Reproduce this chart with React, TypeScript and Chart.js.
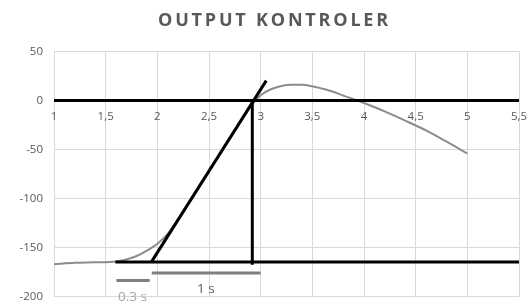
import React, { useEffect, useRef } from "react";
import { Chart, registerables } from "chart.js";

Chart.register(...registerables);

const titleText = "OUTPUT KONTROLER";
const yTicks = [50, 0, -50, -100, -150, -200];
const xTicks = [1, 1.5, 2, 2.5, 3, 3.5, 4, 4.5, 5, 5.5];

// Controller output response curve (grey)
const curveX = [1.0, 1.2, 1.4, 1.6, 1.7, 1.8, 1.9, 2.0, 2.1, 2.2, 2.3, 2.4, 2.5, 2.6, 2.7, 2.8, 2.9, 3.0, 3.1, 3.2, 3.3, 3.4, 3.5, 3.6, 3.7, 3.8, 3.9, 4.0, 4.2, 4.4, 4.6, 4.8, 5.0];
const curveY = [-167, -165.5, -165, -164, -162, -158.5, -153, -146, -136, -121, -105, -88.5, -72, -55.5, -39, -22.5, -6.5, 5.5, 11.5, 14.8, 16, 16, 14.5, 12, 9, 5, 1.5, -2.5, -11, -20.5, -30.5, -42, -54];

// Construction lines (black)
const zeroLineX = [1, 5.5];
const zeroLineY = [0, 0];
const baseLineX = [1.594, 5.5];
const baseLineY = [-164.5, -164.5];
const tangentX = [1.943, 3.054];
const tangentY = [-164.5, 20.3];
const verticalX = [2.919, 2.919];
const verticalY = [0, -167.5];

// Time bars (grey)
const deadBarX = [1.604, 1.926];
const deadBarY = [-183.6, -183.6];
const riseBarX = [1.946, 3.0];
const riseBarY = [-175.8, -175.8];

// Bar labels
const barLabels = ["0.3 s", "1 s"];
const barLabelX = [1.76, 2.47];
const barLabelY = [-200, -192];

const pts = (xs: number[], ys: number[]) => xs.map((x, i) => ({ x, y: ys[i] }));

export default function App() {
  const ref = useRef<HTMLCanvasElement | null>(null);

  useEffect(() => {
    document.body.style.margin = "0";
    const canvas = ref.current;
    if (!canvas) return;

    const textPlugin = {
      id: "texts",
      afterDraw(chart: any) {
        const ctx = chart.ctx;
        const xs = chart.scales.x;
        const ys = chart.scales.y;
        ctx.save();
        // title
        ctx.font = "bold 18px 'Open Sans'";
        (ctx as any).letterSpacing = "2.8px";
        ctx.fillStyle = "#595959";
        ctx.textAlign = "center";
        ctx.textBaseline = "middle";
        ctx.fillText(titleText, chart.width / 2 + 10, 20.5);
        (ctx as any).letterSpacing = "0px";
        // bar labels
        ctx.font = "13.5px 'Open Sans'";
        barLabels.forEach((t, i) => {
          ctx.fillStyle = i === 0 ? "#a6a6a6" : "#595959";
          ctx.fillText(t, xs.getPixelForValue(barLabelX[i]), ys.getPixelForValue(barLabelY[i]));
        });
        ctx.restore();
      },
    };

    const black = "#000000";
    const grey = "#7f7f7f";

    const chart = new Chart(canvas, {
      type: "line",
      data: {
        datasets: [
          { data: pts(zeroLineX, zeroLineY), borderColor: black, borderWidth: 3, pointRadius: 0 },
          { data: pts(baseLineX, baseLineY), borderColor: black, borderWidth: 3, pointRadius: 0 },
          { data: pts(tangentX, tangentY), borderColor: black, borderWidth: 3, pointRadius: 0 },
          { data: pts(verticalX, verticalY), borderColor: black, borderWidth: 3, pointRadius: 0 },
          { data: pts(deadBarX, deadBarY), borderColor: grey, borderWidth: 3, pointRadius: 0 },
          { data: pts(riseBarX, riseBarY), borderColor: grey, borderWidth: 3, pointRadius: 0 },
          {
            data: pts(curveX, curveY),
            borderColor: "#8c8c8c",
            borderWidth: 2,
            pointRadius: 0,
            cubicInterpolationMode: "monotone",
          },
        ],
      } as any,
      options: {
        animation: false,
        responsive: true,
        maintainAspectRatio: false,
        layout: { padding: { top: 51.5, bottom: 4.3, left: 0, right: 10 } },
        plugins: { legend: { display: false }, title: { display: false }, tooltip: { enabled: false } },
        scales: {
          x: {
            type: "linear",
            position: { y: 0 } as any,
            min: 1,
            max: 5.5,
            afterBuildTicks: (s: any) => {
              s.ticks = xTicks.map((v) => ({ value: v }));
            },
            afterFit: (s: any) => {
              s.paddingLeft = 0;
              s.paddingRight = 0;
            },
            ticks: {
              color: "#595959",
              font: { family: "'Open Sans'", size: 11.5 },
              padding: 9,
              maxRotation: 0,
              autoSkip: false,
              callback: (v: any) => String(v).replace(".", ","),
            },
            grid: { color: "#d9d9d9", drawTicks: false, lineWidth: 1 },
            border: { display: false },
          },
          y: {
            type: "linear",
            min: -200,
            max: 50,
            afterBuildTicks: (s: any) => {
              s.ticks = yTicks.map((v) => ({ value: v }));
            },
            afterFit: (s: any) => {
              s.width = 54;
              s.paddingTop = 0;
              s.paddingBottom = 0;
            },
            ticks: {
              color: "#595959",
              font: { family: "'Open Sans'", size: 11.5 },
              padding: 11,
            },
            grid: { color: "#d9d9d9", drawTicks: false, lineWidth: 1 },
            border: { display: false },
          },
        },
      },
      plugins: [textPlugin],
    } as any);

    return () => chart.destroy();
  }, []);

  return (
    <div style={{ width: 529, height: 301, position: "relative" }}>
      <canvas ref={ref} />
    </div>
  );
}
